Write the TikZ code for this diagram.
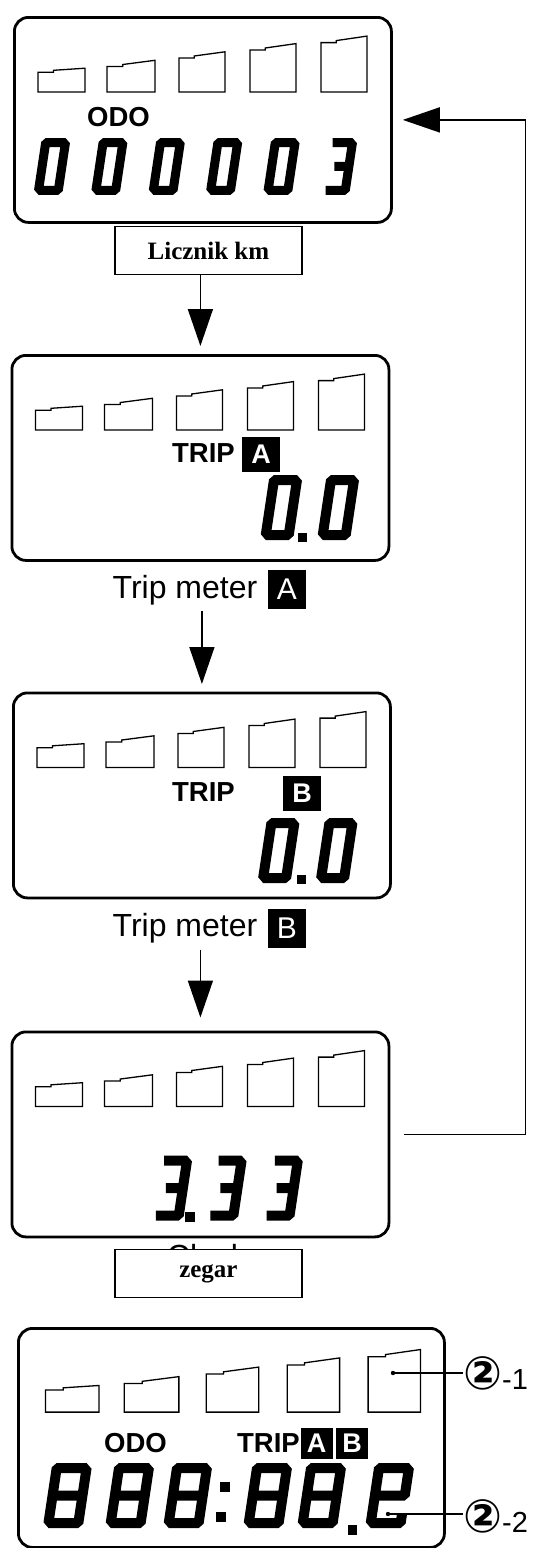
\documentclass[tikz,border=0pt]{standalone}
\usepackage{fontspec}
\setmainfont{Liberation Sans}
\newfontfamily\timesfont{Liberation Serif}
\newfontfamily\circfont{DejaVu Sans}
\usepackage{tikz}
\usetikzlibrary{arrows.meta}
\tikzset{panel/.style = {draw, line width=2.8pt, rounded corners=14pt, minimum width=377pt, minimum height=205pt, anchor=north west, inner sep=0pt}}
\tikzset{barline/.style = {line width=1.3pt}}
\tikzset{segline/.style = {line join=bevel}}
\tikzset{namebox/.style = {draw, fill=white, line width=1.3pt, minimum width=187pt, minimum height=48pt, font=\timesfont\bfseries\fontsize{25}{25}\selectfont}}
\tikzset{lcdtext/.style = {inner sep=0pt, font=\bfseries\fontsize{27.5}{27.5}\selectfont}}
\tikzset{keybox/.style = {fill=black, text=white, inner sep=0pt, minimum width=38pt, minimum height=35pt, font=\bfseries\fontsize{27}{27}\selectfont}}
\tikzset{captext/.style = {inner sep=0pt, font=\fontsize{32}{32}\selectfont}}
\tikzset{flow/.style = {line width=1.6pt, -{Triangle[length=37pt,width=25pt]}}}
\tikzset{callout/.style = {line width=1.3pt}}

% one seven-segment digit, top left corner of the frame at #1,#2
\newcommand\lcddigit[4]{%
  \begin{scope}[shift={(#1,#2)}, xslant=0.15, line width=10pt, #3]
    \draw[segline] #4;
  \end{scope}}
\newcommand\segzero{(0,0) -- (23,0) -- (23,55) -- (0,55) -- cycle}
\newcommand\segthree{(0,0) -- (23,0) -- (23,55) -- (0,55) (6,27.5) -- (23,27.5)}
\newcommand\segeight{(0,0) -- (23,0) -- (23,55) -- (0,55) -- cycle (0,27.5) -- (23,27.5)}
\newcommand\seglast{(0,27.5) -- (0,0) -- (23,0) -- (23,27.5) -- cycle (0,27.5) -- (0,55) -- (23,55) -- (23,46)}

% the five level bars of a display
\newcommand\lcdbars{%
  \foreach \bx/\bw/\hlft/\hrgt in {25/47/19.7/23.8, 94/48/25.5/31.7, 166/46/34/40.2, 237/46/42/48.4, 308/46/49.4/55.9}
    \draw[barline] (\bx,76) -- (\bx,76-\hlft) -- (\bx+0.33*\bw,76-\hlft) -- (\bx+0.33*\bw,76-\hlft-2)
      -- (\bx+\bw,76-\hrgt) -- (\bx+\bw,76) -- cycle;}

\begin{document}
\begin{tikzpicture}[x=1pt,y=-1pt]
\useasboundingbox (0,0) rectangle (534,1548);

% displays
\node[panel] (odo) at (13,16) {};
\node[panel] (tripa) at (10.5,354) {};
\node[panel] (tripb) at (12,691.5) {};
\node[panel] (clk) at (10.5,1030.5) {};
\node[panel, minimum width=426pt, minimum height=219pt] (full) at (17,1327) {};

\begin{scope}[shift={(odo.north west)}] \lcdbars \end{scope}
\begin{scope}[shift={(tripa.north west)}] \lcdbars \end{scope}
\begin{scope}[shift={(tripb.north west)}] \lcdbars \end{scope}
\begin{scope}[shift={(clk.north west)}] \lcdbars \end{scope}
\begin{scope}[shift={(full.north west)}, xscale=1.14, yscale=1.12] \lcdbars \end{scope}

% odometer
\node[lcdtext] (odotxt) at (118.5,117.5) {ODO};
\foreach \i in {0,...,4}
  \lcddigit{45.7+57.4*\i}{142.5}{line width=9pt, xscale=0.86, yscale=0.87}{\segzero};
\lcddigit{332.7}{142.5}{line width=9pt, xscale=0.86, yscale=0.87}{\segthree};

% trip A
\node[lcdtext] (tripatxt) at (203.5,453) {TRIP};
\node[keybox] (tripakey) at (261,454.5) {A};
\lcddigit{274}{480}{}{\segzero};
\lcddigit{331}{480}{}{\segzero};
\fill (298,533) rectangle (307,542);

% trip B
\node[lcdtext] (tripbtxt) at (203.5,792) {TRIP};
\node[keybox] (tripbkey) at (302,793) {B};
\lcddigit{271.4}{823}{}{\segzero};
\lcddigit{329.4}{823}{}{\segzero};
\fill (297,875) rectangle (306,884);

% clock
\lcddigit{164}{1160.6}{}{\segthree};
\lcddigit{218.6}{1160.6}{}{\segthree};
\lcddigit{274.8}{1160.6}{}{\segthree};
\fill (185,1212) rectangle (195,1222);

% all segments
\node[lcdtext] (fullodo) at (135.5,1443.5) {ODO};
\node[lcdtext] (fulltrip) at (268.5,1443) {TRIP};
\node[keybox, minimum width=32pt, minimum height=31pt] (fullkeya) at (316.5,1443) {A};
\node[keybox, minimum width=32pt, minimum height=31pt] (fullkeyb) at (352,1443) {B};
\foreach \dx in {56.7, 119, 177, 257, 311}
  \lcddigit{\dx}{1468}{xscale=1.3}{\segeight};
\lcddigit{379}{1468}{xscale=1.3}{\seglast};
\fill (220,1482) rectangle (230,1492);
\fill (216,1512) rectangle (226,1522);
\fill (348,1525) rectangle (357,1535);

% captions
\node[namebox] (lblodo) at (208.4,250.6) {Licznik km};
\node[captext, anchor=base west] (lblatxt) at (112.5,598) {Trip meter};
\node[keybox, minimum height=39pt, font=\fontsize{30}{30}\selectfont] (lblakey) at (287,589.5) {A};
\node[captext, anchor=base west] (lblbtxt) at (112.5,936.5) {Trip meter};
\node[keybox, minimum height=39pt, font=\fontsize{30}{30}\selectfont] (lblbkey) at (287,928) {B};
\node[captext, anchor=north] (lblclock) at (207,1244.5) {Clock};
\node[namebox] (lblclk) at (208.4,1273.4) {zegar};

% sequence
\draw[flow, shorten >=8pt] (lblodo.south -| tripa.north) -- (tripa.north);
\draw[flow, shorten <=2pt, shorten >=7.5pt] (lblakey.south -| tripb.north) -- (tripb.north);
\draw[flow, shorten <=2pt, shorten >=13pt] (lblbkey.south -| clk.north) -- (clk.north);
\draw[flow] ([xshift=14pt]clk.east) -- ++(121,0) |- ([xshift=10pt]odo.east);

% callouts
\coordinate (barpt) at (393,1373);
\coordinate (digpt) at (388,1514);
\node[anchor=west, inner sep=0pt, font=\fontsize{29}{29}\selectfont] (call1) at (463,1373) {{\circfont\bfseries\fontsize{46}{46}\selectfont ②}-1};
\node[anchor=west, inner sep=0pt, font=\fontsize{29}{29}\selectfont] (call2) at (463,1516) {{\circfont\bfseries\fontsize{46}{46}\selectfont ②}-2};
\fill (barpt) circle (2.2);
\fill (digpt) circle (2.2);
\draw[callout] (barpt) -- (call1.west |- barpt);
\draw[callout] (digpt) -- (call2.west |- digpt);
\end{tikzpicture}
\end{document}
